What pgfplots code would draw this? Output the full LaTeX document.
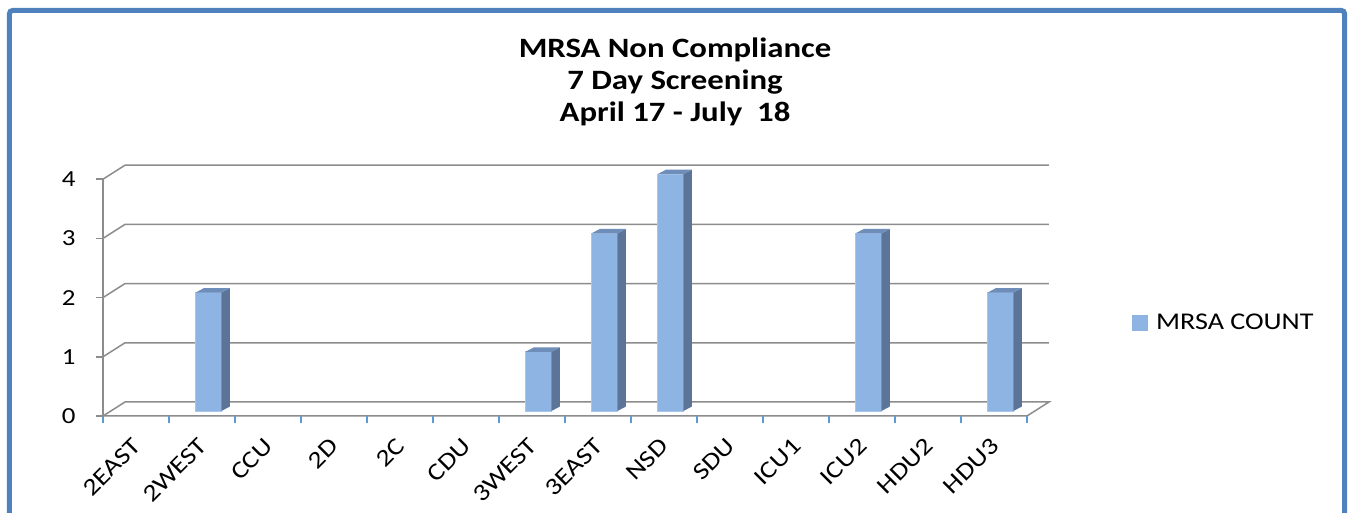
\documentclass[border=0pt]{standalone}
\usepackage{fontspec}
\setmainfont{Carlito}[FakeStretch=1.17]
\usepackage{pgfplots}
\pgfplotsset{compat=1.18}
\usepackage{pgfplotstable}
\definecolor{frontcol}{HTML}{8DB4E2}
\definecolor{frontedge}{HTML}{A8C6EC}
\definecolor{sidecol}{HTML}{5B7497}
\definecolor{topcol}{HTML}{6E8DB9}
\definecolor{gridcol}{HTML}{8C8C8C}
\definecolor{tickblue}{HTML}{5B9BD5}
\definecolor{framecol}{HTML}{4F81BD}

\pgfplotstableread{
idx cat v
0 2EAST 0
1 2WEST 2
2 CCU 0
3 2D 0
4 2C 0
5 CDU 0
6 3WEST 1
7 3EAST 3
8 NSD 4
9 SDU 0
10 ICU1 0
11 ICU2 3
12 HDU2 0
13 HDU3 2
}\mrsa

\pgfdeclareplotmark{barfaces}{%
 \pgfmathsetlengthmacro{\barh}{\barval*29.6pt}%
 \pgfpathmoveto{\pgfqpoint{6.5pt}{0pt}}%
 \pgfpathlineto{\pgfqpoint{10.75pt}{2.25pt}}%
 \pgfpathlineto{\pgfpoint{10.75pt}{2.25pt-\barh}}%
 \pgfpathlineto{\pgfpoint{6.5pt}{-\barh}}%
 \pgfpathclose
 \pgfsetfillcolor{sidecol}%
 \pgfusepath{fill}%
 \pgfpathmoveto{\pgfqpoint{-6.5pt}{0pt}}%
 \pgfpathlineto{\pgfqpoint{6.5pt}{0pt}}%
 \pgfpathlineto{\pgfqpoint{10.75pt}{2.25pt}}%
 \pgfpathlineto{\pgfqpoint{-2.25pt}{2.25pt}}%
 \pgfpathclose
 \pgfsetfillcolor{topcol}%
 \pgfusepath{fill}%
}

\begin{document}
\begin{tikzpicture}
\begin{axis}[
 x=33pt, y=29.6pt,
 xmin=-0.598, xmax=13.402, ymin=-0.0845, ymax=3.9155,
 clip=false, set layers,
 axis line style={draw=none},
 tick pos=left, tick align=outside,
 xtick={-0.0985,0.9015,...,12.9015},
 xticklabels={2EAST,2WEST,CCU,2D,2C,CDU,3WEST,3EAST,NSD,SDU,ICU1,ICU2,HDU2,HDU3},
 minor xtick={-0.598,0.402,...,13.402},
 ytick={-0.0845,0.9155,1.9155,2.9155,3.9155},
 yticklabels={0,1,2,3,4},
 major tick length=3.5pt, minor tick length=3.5pt,
 major x tick style={draw=none},
 minor x tick style={draw=tickblue, line width=1pt},
 major y tick style={draw=gridcol, line width=0.75pt},
 xticklabel style={font=\fontsize{12}{14}\selectfont, text=black, inner sep=0pt, xshift=0.5pt, yshift=-9.5pt, rotate=45, anchor=east},
 yticklabel style={font=\fontsize{11.5}{13}\selectfont, text=black, inner sep=0pt, anchor=east, xshift=-10pt},
 legend style={at={(1.1136,0.3927)}, anchor=west, draw=none, fill=none, inner sep=0pt,
   font=\fontsize{12}{14}\selectfont, /tikz/every odd column/.append style={column sep=2pt}},
]
\begin{pgfonlayer}{axis background}
\draw[gridcol, line width=0.75pt] (axis cs:-0.598,-0.0845) -- (axis cs:-0.598,3.9155);
\draw[gridcol, line width=0.75pt] (axis cs:13.402,-0.0845) -- (axis cs:-0.598,-0.0845) -- (axis cs:-0.2647,0.152) -- (axis cs:13.735,0.152) -- cycle;
\draw[gridcol, line width=0.75pt] (axis cs:-0.598,0.9155) -- (axis cs:-0.2647,1.152) -- (axis cs:13.735,1.152);
\draw[gridcol, line width=0.75pt] (axis cs:-0.598,1.9155) -- (axis cs:-0.2647,2.152) -- (axis cs:13.735,2.152);
\draw[gridcol, line width=0.75pt] (axis cs:-0.598,2.9155) -- (axis cs:-0.2647,3.152) -- (axis cs:13.735,3.152);
\draw[gridcol, line width=0.75pt] (axis cs:-0.598,3.9155) -- (axis cs:-0.2647,4.152) -- (axis cs:13.735,4.152);
\end{pgfonlayer}
\addplot[ybar, bar width=13pt, fill=frontcol, draw=frontedge, line width=0.4pt,
  restrict y to domain=0.5:10,
  legend image code/.code={\fill[frontcol] (0pt,-3.75pt) rectangle (7.5pt,3.75pt);}]
  table[x=idx, y=v]{\mrsa};
\addlegendentry{MRSA COUNT}
\addplot[only marks, mark=barfaces, scatter,
  scatter/@pre marker code/.code={}, scatter/@post marker code/.code={},
  visualization depends on={\thisrow{v} \as \barval},
  restrict y to domain=0.5:10, forget plot]
  table[x=idx, y=v]{\mrsa};
\end{axis}
\draw[framecol, line width=2.5pt, rounded corners=1.5pt] (-46.75pt,-60pt) rectangle (620.75pt,202.75pt);
\node[anchor=base, font=\bfseries\fontsize{14}{16}\selectfont, inner sep=0pt] at (286pt,179pt) {MRSA Non Compliance};
\node[anchor=base, font=\bfseries\fontsize{14}{16}\selectfont, inner sep=0pt] at (286pt,163pt) {7 Day Screening};
\node[anchor=base, font=\bfseries\fontsize{14}{16}\selectfont, inner sep=0pt] at (286pt,147pt) {April 17 - July\ \ 18};
\pgfresetboundingbox
\useasboundingbox (-51.5pt,-48.5pt) rectangle (624pt,208pt);
\end{tikzpicture}
\end{document}
